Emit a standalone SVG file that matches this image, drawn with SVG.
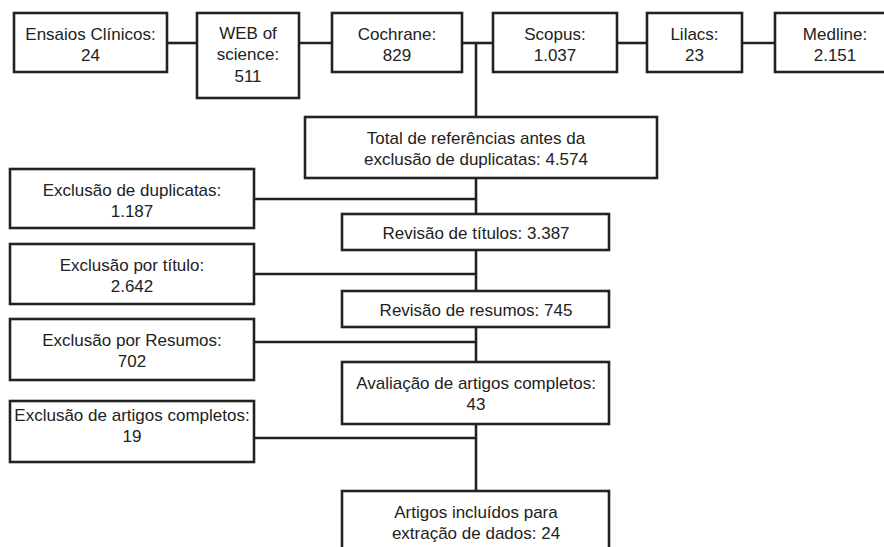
<svg xmlns="http://www.w3.org/2000/svg" width="884" height="547" viewBox="0 0 884 547">
<style>
rect{fill:#fff;stroke:#222;stroke-width:2.6}
text{font-family:"Liberation Sans",Arial,sans-serif;font-size:17px;fill:#222;text-anchor:middle}
#connectors line{stroke:#222;stroke-width:2.6}
</style>
<rect x="0" y="0" width="884" height="547" style="stroke:none"/>
<g id="connectors">
<line x1="167" y1="43" x2="197" y2="43"/>
<line x1="299" y1="43" x2="332" y2="43"/>
<line x1="462" y1="43" x2="493" y2="43"/>
<line x1="617" y1="43" x2="647" y2="43"/>
<line x1="742" y1="43" x2="775" y2="43"/>
<line x1="476" y1="43" x2="476" y2="117"/>
<line x1="476" y1="178" x2="476" y2="214"/>
<line x1="476" y1="250" x2="476" y2="291"/>
<line x1="476" y1="327" x2="476" y2="362"/>
<line x1="476" y1="424" x2="476" y2="491"/>
<line x1="254" y1="199" x2="477" y2="199"/>
<line x1="254" y1="274" x2="477" y2="274"/>
<line x1="254" y1="342" x2="477" y2="342"/>
<line x1="254" y1="438" x2="477" y2="438"/>
</g>
<g id="ensaios"><rect x="14" y="13" width="153" height="59"/><text x="90.5" y="40">Ensaios Clínicos:</text><text x="90.5" y="61">24</text></g>
<g id="web"><rect x="197" y="13" width="102" height="85"/><text x="248" y="39">WEB of</text><text x="248" y="60">science:</text><text x="248" y="82">511</text></g>
<g id="cochrane"><rect x="332" y="13" width="130" height="59"/><text x="397" y="40">Cochrane:</text><text x="397" y="61">829</text></g>
<g id="scopus"><rect x="493" y="13" width="124" height="59"/><text x="555" y="40">Scopus:</text><text x="555" y="61">1.037</text></g>
<g id="lilacs"><rect x="647" y="13" width="95" height="59"/><text x="694.5" y="40">Lilacs:</text><text x="694.5" y="61">23</text></g>
<g id="medline"><rect x="775" y="13" width="121" height="59"/><text x="835" y="40">Medline:</text><text x="835" y="61">2.151</text></g>
<g id="total"><rect x="305" y="117" width="352" height="61"/><text x="476" y="144">Total de referências antes da</text><text x="476" y="165">exclusão de duplicatas: 4.574</text></g>
<g id="titulos"><rect x="342" y="214" width="267" height="36"/><text x="476" y="239">Revisão de títulos: 3.387</text></g>
<g id="resumos"><rect x="342" y="291" width="267" height="36"/><text x="476" y="316">Revisão de resumos: 745</text></g>
<g id="avaliacao"><rect x="342" y="362" width="267" height="62"/><text x="476" y="389">Avaliação de artigos completos:</text><text x="476" y="410">43</text></g>
<g id="incluidos"><rect x="342" y="491" width="267" height="70"/><text x="476" y="518">Artigos incluídos para</text><text x="476" y="539">extração de dados: 24</text></g>
<g id="exc-dup"><rect x="10" y="169" width="244" height="59"/><text x="132" y="196">Exclusão de duplicatas:</text><text x="132" y="217">1.187</text></g>
<g id="exc-tit"><rect x="10" y="244" width="244" height="60"/><text x="132" y="271">Exclusão por título:</text><text x="132" y="292">2.642</text></g>
<g id="exc-res"><rect x="10" y="319" width="244" height="61"/><text x="132" y="346">Exclusão por Resumos:</text><text x="132" y="367">702</text></g>
<g id="exc-art"><rect x="10" y="401" width="244" height="61"/><text x="132" y="421">Exclusão de artigos completos:</text><text x="132" y="442">19</text></g>
</svg>
